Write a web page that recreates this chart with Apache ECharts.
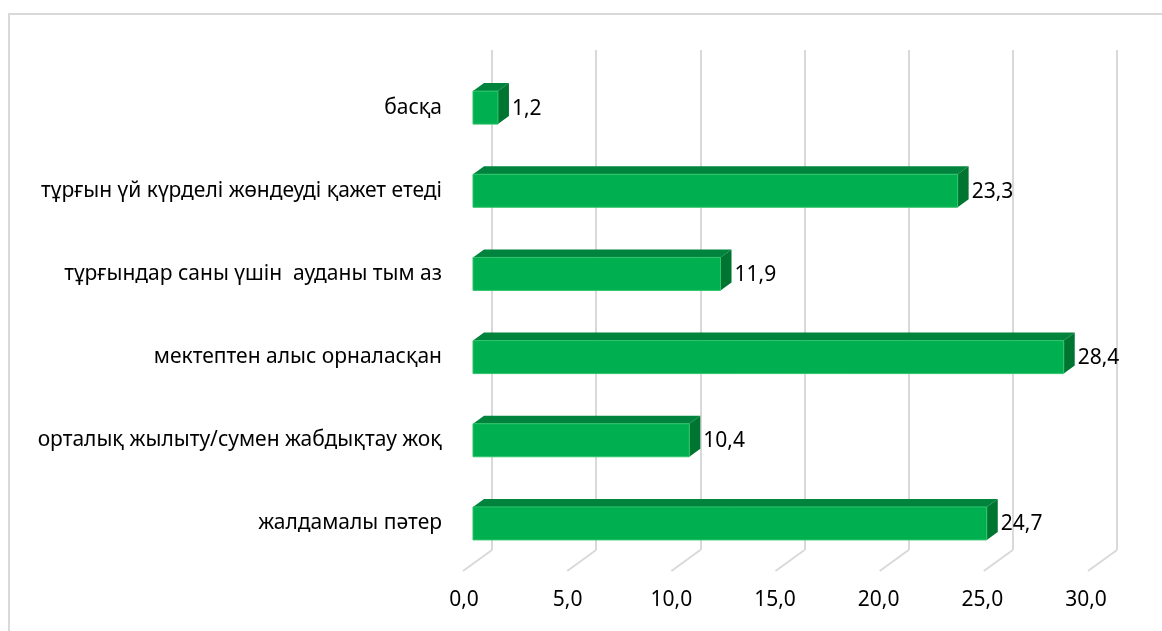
<!DOCTYPE html>
<html>
<head>
<meta charset="utf-8">
<script src="https://cdn.jsdelivr.net/npm/echarts@6/dist/echarts.min.js"></script>
<style>
  html, body { margin: 0; padding: 0; background: #fff; }
  #chart { width: 1162px; height: 631px; }
</style>
</head>
<body>
<div id="chart"></div>
<script>
// categories top to bottom
const categories = [
  'басқа',
  'тұрғын үй күрделі жөндеуді қажет етеді',
  'тұрғындар саны үшін  ауданы тым аз',
  'мектептен алыс орналасқан',
  'орталық жылыту/сумен жабдықтау жоқ',
  'жалдамалы пәтер'
];
const values = [1.2, 23.3, 11.9, 28.4, 10.4, 24.7];
const tickValues = [0, 5, 10, 15, 20, 25, 30];

const FONT = '"Noto Sans", "DejaVu Sans", sans-serif';
const fmt = v => v.toFixed(1).replace('.', ',');

let chart = echarts.init(document.getElementById('chart'));

// pseudo 3d bar: front face + top face + right side
function renderBar(params, api) {
  const v = api.value(0), c = api.value(1);
  const p0 = api.coord([0, c]);
  const p1 = api.coord([v, c]);
  const h = 33, dx = 11, dy = 8;
  const top = p0[1] - h / 2, bot = p0[1] + h / 2;
  const x0 = p0[0], x1 = p1[0];
  return {
    type: 'group',
    children: [
      {
        type: 'polygon',
        shape: { points: [[x0, top], [x0 + dx, top - dy], [x1 + dx, top - dy], [x1, top]] },
        style: { fill: '#00843d' }
      },
      {
        type: 'polygon',
        shape: { points: [[x1, top], [x1 + dx, top - dy], [x1 + dx, bot - dy], [x1, bot]] },
        style: { fill: '#007532' }
      },
      {
        type: 'rect',
        shape: { x: x0, y: top, width: x1 - x0, height: h },
        style: { fill: '#00b050', stroke: '#2fc46a', lineWidth: 1 }
      },
      {
        type: 'text',
        style: {
          text: fmt(v), x: x1 + dx + 3, y: p0[1] + 1,
          fill: '#000', fontSize: 21, fontFamily: FONT,
          align: 'left', verticalAlign: 'middle'
        }
      }
    ]
  };
}

// diagonal floor lines from back wall to front edge
function renderFloor(params, api) {
  const p = api.coord([api.value(0), 0]);
  return {
    type: 'line',
    shape: { x1: p[0], y1: p[1], x2: p[0] - 29, y2: p[1] + 21 },
    style: { stroke: '#d9d9d9', lineWidth: 2 }
  };
}

const option = {
  animation: false,
  backgroundColor: '#fff',
  graphic: [
    {
      type: 'rect',
      shape: { x: 9, y: 14, width: 1200, height: 700 },
      style: { fill: 'none', stroke: '#d9d9d9', lineWidth: 2 },
      silent: true, z: -10
    }
  ],
  grid: [
    { left: 473, width: 624, top: 66, height: 499 },   // bars
    { left: 492, width: 625, top: 50, height: 500 },   // back wall
    { left: 464, width: 622, top: 50, height: 521 }    // front labels
  ],
  xAxis: [
    { gridIndex: 0, type: 'value', min: 0, max: 30, interval: 5, show: false },
    {
      gridIndex: 1, type: 'value', min: 0, max: 30, interval: 5,
      axisLine: { show: false }, axisTick: { show: false }, axisLabel: { show: false },
      splitLine: { show: true, lineStyle: { color: '#d9d9d9', width: 2 } }
    },
    {
      gridIndex: 2, type: 'value', min: 0, max: 30, interval: 5,
      axisLine: { show: false }, axisTick: { show: false }, splitLine: { show: false },
      axisLabel: {
        margin: 19, color: '#000', fontSize: 21, fontFamily: FONT,
        formatter: v => fmt(v)
      }
    }
  ],
  yAxis: [
    {
      gridIndex: 0, type: 'category', data: categories, inverse: true,
      axisLine: { show: false }, axisTick: { show: false }, splitLine: { show: false },
      axisLabel: { margin: 31, color: '#000', fontSize: 21, fontFamily: FONT, padding: [10, 0, 0, 0] }
    },
    { gridIndex: 1, type: 'value', min: 0, max: 1, show: false },
    { gridIndex: 2, type: 'value', min: 0, max: 1, show: false }
  ],
  series: [
    {
      type: 'custom',
      xAxisIndex: 1, yAxisIndex: 1,
      renderItem: renderFloor,
      data: tickValues.map(v => [v, 0]),
      silent: true, z: 1
    },
    {
      type: 'custom',
      xAxisIndex: 0, yAxisIndex: 0,
      renderItem: renderBar,
      encode: { x: 0, y: 1 },
      data: values.map((v, i) => [v, i]),
      z: 5
    }
  ]
};

chart.setOption(option);
window.onresize = function () {
  chart.resize();
};
</script>
</body>
</html>
